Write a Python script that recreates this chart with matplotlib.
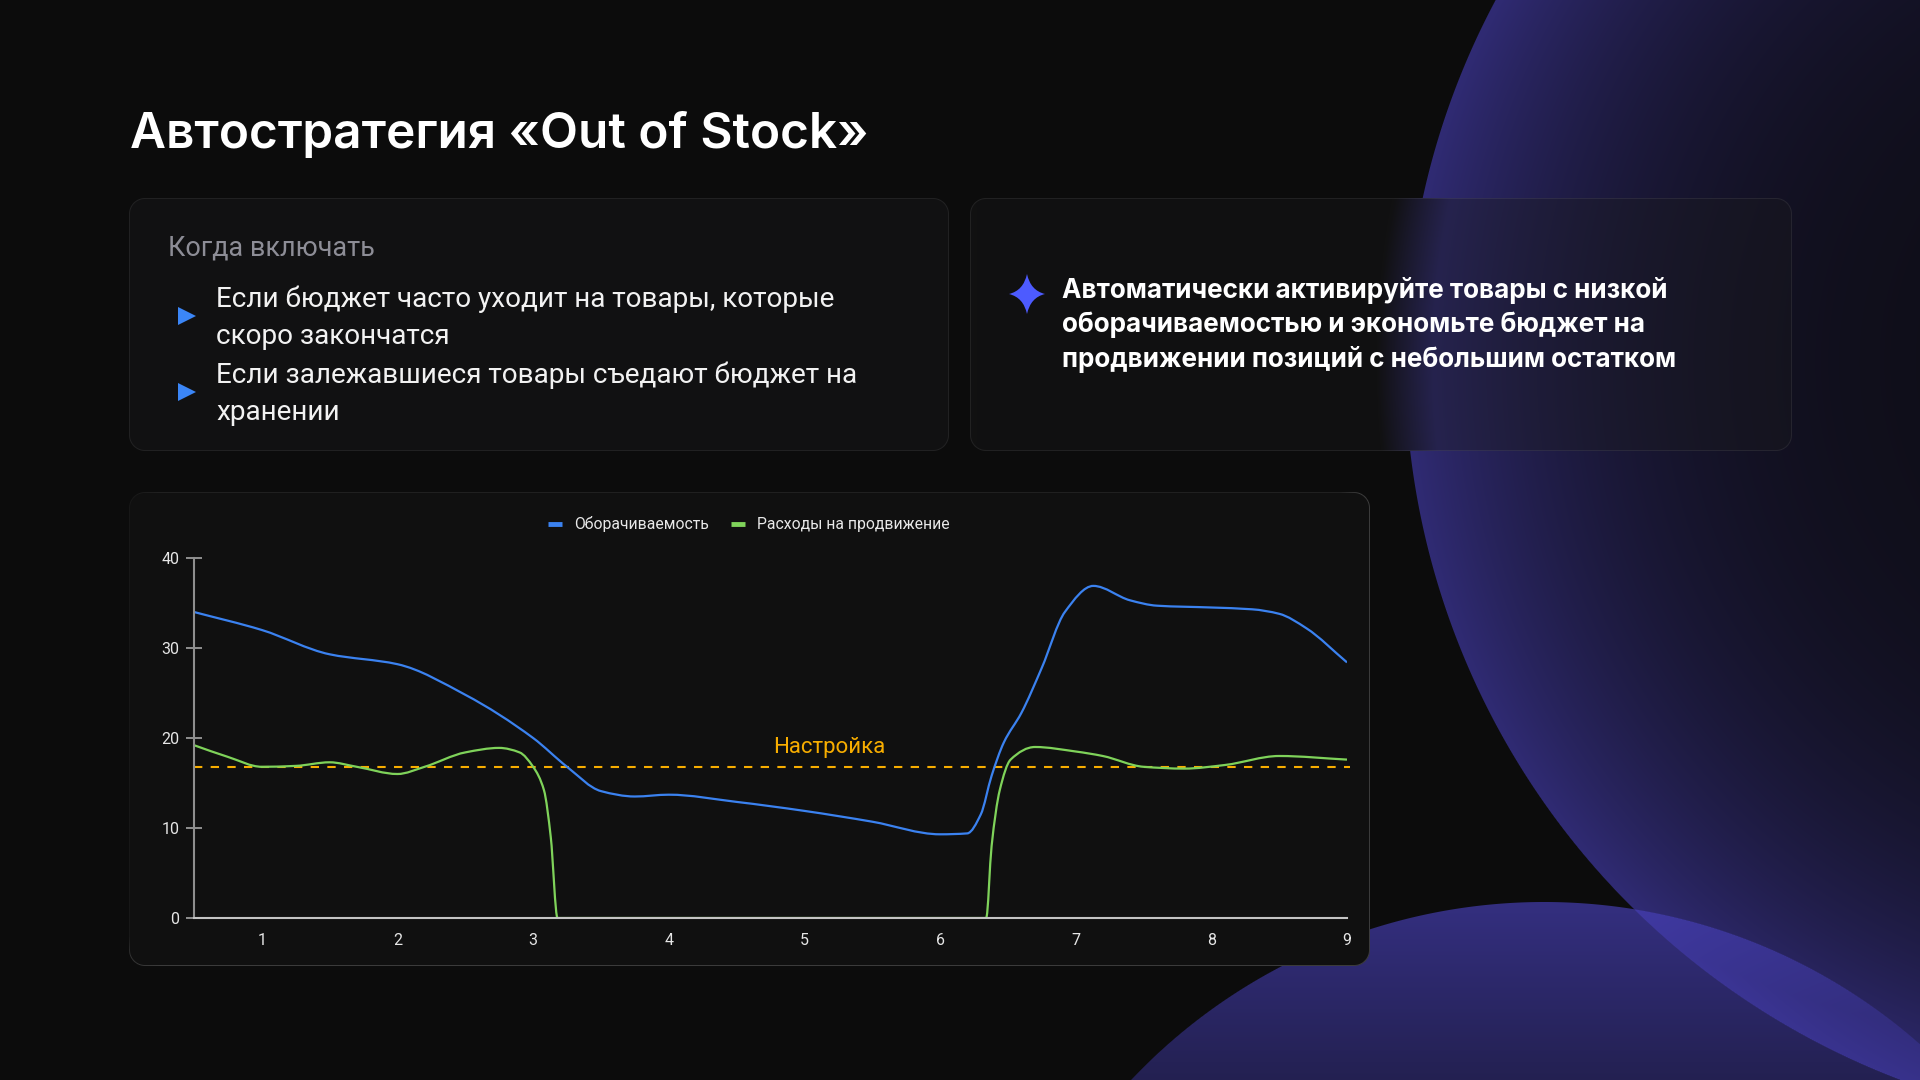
import numpy as np
import matplotlib
matplotlib.use("Agg")
import matplotlib.pyplot as plt
from matplotlib.path import Path
from matplotlib.patches import PathPatch, Polygon
from matplotlib.lines import Line2D

plt.rcParams['font.family'] = ['Roboto', 'DejaVu Sans']

# --- chart data ---
turn_x = [0.5, 1.0, 1.5, 2.0, 2.5, 3.0, 3.25, 3.5, 3.75, 4.0, 4.5, 5.0,
          5.5, 6.0, 6.2, 6.3, 6.38, 6.47, 6.6, 6.75, 6.92, 7.13, 7.4, 7.6, 8.0, 8.3, 8.5, 8.7, 9.0]
turn_y = [34.0, 32.0, 29.3, 28.2, 24.8, 20.0, 16.8, 14.1, 13.5, 13.7, 12.9, 11.9,
          10.7, 9.3, 9.4, 11.5, 15.8, 19.5, 22.8, 27.8, 34.0, 36.9, 35.3, 34.7, 34.5, 34.3, 33.8, 32.2, 28.4]

spend_x = [0.5, 0.75, 1.0, 1.25, 1.5, 1.7, 2.0, 2.2, 2.5, 2.75, 2.9, 3.0, 3.08, 3.13, 3.18, 4.0, 5.0,
           6.0, 6.34, 6.38, 6.44, 6.52, 6.7, 7.0, 7.2, 7.5, 7.8, 8.1, 8.5, 9.0]
spend_y = [19.2, 17.9, 16.8, 16.9, 17.3, 16.8, 16.0, 16.8, 18.4, 18.9, 18.4, 16.8, 14.2, 9.0, 0.0, 0.0, 0.0,
           0.0, 0.0, 8.0, 14.2, 17.6, 19.0, 18.5, 18.0, 16.8, 16.6, 17.0, 18.0, 17.6]

threshold = 16.8
x_ticks = [1, 2, 3, 4, 5, 6, 7, 8, 9]
y_ticks = [0, 10, 20, 30, 40]
series_names = ['Оборачиваемость', 'Расходы на продвижение']

title = 'Автостратегия «Out of Stock»'
left_head = 'Когда включать'
left_items = [['Если бюджет часто уходит на товары, которые', 'скоро закончатся'],
              ['Если залежавшиеся товары съедают бюджет на', 'хранении']]
right_lines = ['Автоматически активируйте товары с низкой',
               'оборачиваемостью и экономьте бюджет на',
               'продвижении позиций с небольшим остатком']

BLUE = '#3b82f0'
GREEN = '#7fd35a'
ORANGE = '#f7ad00'

W, H = 1920, 1080

# --- background picture: dark page, two purple discs, panels ---
yy, xx = np.mgrid[0:H, 0:W] + 0.5
bgc = np.array([12, 12, 12]) / 255

d1 = np.hypot(xx - 2173, yy - 362)
m1 = np.clip(768 - d1 + 0.5, 0, 1)[..., None]
f1 = (np.clip(d1 / 768, 0, 1) ** 3.5)[..., None]
big = np.array([15, 14, 24]) / 255 + (np.array([48, 43, 116]) / 255 - np.array([15, 14, 24]) / 255) * f1
lb = (big - bgc) * m1

d2 = np.hypot(xx - 1544, yy - 1470)
m2 = np.clip(568 - d2 + 0.5, 0, 1)[..., None]
t2 = np.clip((yy - 902) / 320, 0, 1)[..., None]
bot = np.array([52, 47, 128]) / 255 * (1 - t2) + np.array([22, 21, 44]) / 255 * t2
lt = (bot - bgc) * m2

img = bgc + np.maximum(lb, lt) + 0.35 * np.minimum(lb, lt)


def rrect_sdf(x0, y0, x1, y1, r):
    cx, cy = (x0 + x1) / 2, (y0 + y1) / 2
    qx = np.abs(xx - cx) - (x1 - x0) / 2 + r
    qy = np.abs(yy - cy) - (y1 - y0) / 2 + r
    return np.hypot(np.maximum(qx, 0), np.maximum(qy, 0)) + np.minimum(np.maximum(qx, qy), 0) - r


def box_blur(a, rx, ry):
    c = np.cumsum(np.pad(a, ((0, 0), (rx + 1, rx), (0, 0)), mode='edge'), axis=1)
    a = (c[:, 2 * rx + 1:] - c[:, :-2 * rx - 1]) / (2 * rx + 1)
    c = np.cumsum(np.pad(a, ((ry + 1, ry), (0, 0), (0, 0)), mode='edge'), axis=0)
    return (c[2 * ry + 1:] - c[:-2 * ry - 1]) / (2 * ry + 1)


# left card
s = rrect_sdf(129, 198, 949, 451, 16)
fm = np.clip(0.5 - s, 0, 1)[..., None]
img = img * (1 - fm) + np.array([17, 17, 18]) / 255 * fm
ring = np.clip(1 - np.abs(s + 0.5), 0, 1)[..., None]
img = img + (1 - img) * 0.07 * ring

# right card: frosted glass over the disc
s = rrect_sdf(970, 198, 1792, 451, 16)
fm = np.clip(0.5 - s, 0, 1)[..., None]
glass = box_blur(img, 28, 18) * 0.65 + np.array([26, 26, 28]) / 255 * 0.35
img = img * (1 - fm) + glass * fm
ring = np.clip(1 - np.abs(s + 0.5), 0, 1)[..., None]
img = img + (1 - img) * 0.07 * ring

# chart card: faint top/left edge, brighter right/bottom edge
s = rrect_sdf(129, 492, 1370, 966, 16)
fm = np.clip(0.5 - s, 0, 1)[..., None]
img = img * (1 - fm) + np.array([16, 16, 16]) / 255 * fm
ring = np.clip(1 - np.abs(s + 0.5), 0, 1)
edge_w = np.clip(np.maximum((xx - 1340) / 20, (yy - 936) / 20), 0, 1)
left_w = np.clip((xx - 129) / 30, 0, 1)
img = img + (1 - img) * ((0.03 + 0.04 * left_w + 0.11 * edge_w) * ring)[..., None]

fig = plt.figure(figsize=(19.2, 10.8), dpi=100)
bg = fig.add_axes([0, 0, 1, 1])
bg.imshow(np.clip(img, 0, 1), extent=(0, W, H, 0), interpolation='nearest', aspect='auto')
bg.set_xlim(0, W)
bg.set_ylim(H, 0)
bg.axis('off')

renderer = fig.canvas.get_renderer()


def fit(t, width):
    bb = t.get_window_extent(renderer=renderer)
    t.set_fontsize(t.get_fontsize() * width / bb.width)
    return t.get_fontsize()


tt = bg.text(130, 148, title, color='white', fontsize=38, family=['Inter', 'Roboto', 'DejaVu Sans'],
             fontweight='semibold', va='baseline', ha='left')
fit(tt, 737)

th = bg.text(168, 255, left_head, color='#8d8d96', fontsize=20, va='baseline')
fit(th, 207)

base = [307, 383]
for i, item in enumerate(left_items):
    for j, line in enumerate(item):
        t = bg.text(216, base[i] + j * 37.5, line, color='#f2f2f2', fontsize=19, va='baseline')
        if i == 0 and j == 0:
            fs = fit(t, 618)
        else:
            t.set_fontsize(fs)
    yc = base[i] + 9
    bg.add_patch(Polygon([(178, yc - 9), (196, yc), (178, yc + 9)], closed=True,
                         color='#3b86f7', lw=0))

rfs = None
for j, line in enumerate(right_lines):
    t = bg.text(1062, 298 + j * 34.3, line, color='white', fontsize=18,
                family=['Inter', 'Roboto', 'DejaVu Sans'], fontweight='bold', va='baseline')
    if j == 0:
        rfs = fit(t, 605)
    else:
        t.set_fontsize(rfs)

# four-point star
cx, cy, k = 1027, 294, 3.5
star = Path([(cx, cy - 20), (cx + k, cy - k), (cx + 18, cy), (cx + k, cy + k), (cx, cy + 20),
             (cx - k, cy + k), (cx - 18, cy), (cx - k, cy - k), (cx, cy - 20)],
            [Path.MOVETO] + [Path.CURVE3] * 8)
bg.add_patch(PathPatch(star, facecolor='#4d5bff', lw=0))


# --- chart ---
def smooth_path(xs, ys):
    xs = np.asarray(xs, float)
    ys = np.asarray(ys, float)
    h = np.diff(xs)
    d = np.diff(ys) / h
    m = np.zeros(len(xs))
    m[0], m[-1] = d[0], d[-1]
    for i in range(1, len(xs) - 1):
        if d[i - 1] * d[i] <= 0:
            m[i] = 0
        else:
            w1 = 2 * h[i] + h[i - 1]
            w2 = h[i] + 2 * h[i - 1]
            m[i] = (w1 + w2) / (w1 / d[i - 1] + w2 / d[i])
    verts = [(xs[0], ys[0])]
    codes = [Path.MOVETO]
    for i in range(len(xs) - 1):
        verts += [(xs[i] + h[i] / 3, ys[i] + m[i] * h[i] / 3),
                  (xs[i + 1] - h[i] / 3, ys[i + 1] - m[i + 1] * h[i] / 3),
                  (xs[i + 1], ys[i + 1])]
        codes += [Path.CURVE4] * 3
    return Path(verts, codes)


ax = fig.add_axes([194 / W, (H - 918) / H, (1347 - 194) / W, 360 / H])
ax.set_facecolor('none')
ax.set_xlim(0.5, 9)
ax.set_ylim(0, 40)

ax.add_patch(PathPatch(smooth_path(turn_x, turn_y), fill=False, edgecolor=BLUE, lw=1.6, zorder=3))
ax.add_patch(PathPatch(smooth_path(spend_x, spend_y), fill=False, edgecolor=GREEN, lw=1.6, zorder=3))
ax.plot([0.5, 9.02], [threshold, threshold], color=ORANGE, lw=1.5, dashes=(4, 4), zorder=2,
        clip_on=False)
ax.text(5.18, threshold + 2.1, 'Настройка', color=ORANGE, fontsize=16, ha='center', va='center')

for side in ['top', 'right']:
    ax.spines[side].set_visible(False)
ax.spines['left'].set_color('#8e8e8e')
ax.spines['bottom'].set_color('#c4c4c4')
for side in ['left', 'bottom']:
    ax.spines[side].set_linewidth(1.5)
    ax.spines[side].set_zorder(5)

ax.set_xticks(x_ticks)
ax.set_yticks(y_ticks)
ax.tick_params(axis='x', length=0, pad=11, labelsize=11.5, labelcolor='#e6e6e6')
ax.tick_params(axis='y', direction='inout', length=11, width=1.3, color='#9a9a9a', pad=5,
               labelsize=11.5, labelcolor='#e6e6e6')

handles = [Line2D([], [], color=BLUE, lw=3.5, solid_capstyle='butt'),
           Line2D([], [], color=GREEN, lw=3.5, solid_capstyle='butt')]
fig.legend(handles, series_names, loc='center', bbox_to_anchor=(749 / W, 1 - 524 / H),
           bbox_transform=fig.transFigure, ncol=2, frameon=False, fontsize=11.3,
           labelcolor='#e8e8e8', handlelength=0.9, handletextpad=0.75, columnspacing=1.4)

fig.savefig('out.png', dpi=100, facecolor='#0c0c0c')
